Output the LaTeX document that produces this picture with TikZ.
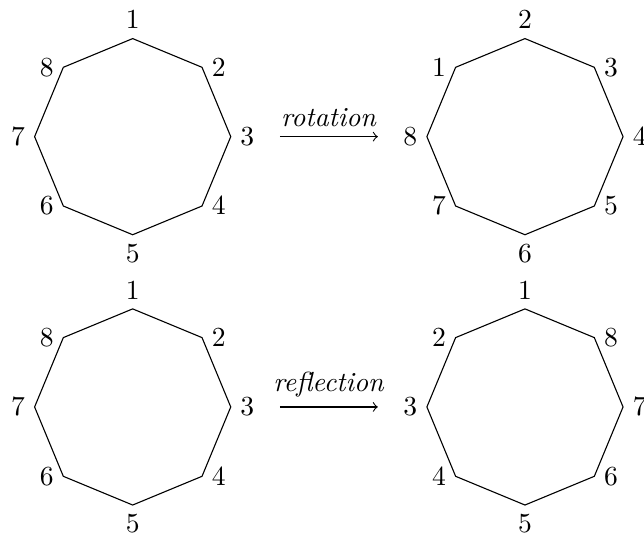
\documentclass[tikz,border=0pt]{standalone}
\usetikzlibrary{
    calc,
    arrows
}
\tikzset{
  every path/.style={
    black,
    line width=0.4pt
  },
  every label/.style={
    inner sep=3.33pt
  },
  polygon/.style={
    line join=miter
  },
  move/.style={
    ->
  }
}

\begin{document}
\begin{tikzpicture}

    \useasboundingbox (-1.691,-5.089) rectangle (6.517,1.742);

    %-------------------------
    % 左上の八角形
    %-------------------------
    \coordinate[label=above:$1$] (A1) at (90:1.25);
    \coordinate[label=right:$2$] (A2) at (45:1.25);
    \coordinate[label=right:$3$] (A3) at (0:1.25);
    \coordinate[label=right:$4$] (A4) at (-45:1.25);
    \coordinate[label=below:$5$] (A5) at (-90:1.25);
    \coordinate[label=left:$6$] (A6) at (-135:1.25);
    \coordinate[label=left:$7$] (A7) at (180:1.25);
    \coordinate[label=left:$8$] (A8) at (135:1.25);

    \draw[polygon] (A1) -- (A2) -- (A3) -- (A4) -- (A5) -- (A6) -- (A7) -- (A8) -- cycle;

    %-------------------------
    % 回転
    %-------------------------
    \coordinate (R1) at (1.875,0);
    \coordinate (R2) at (3.125,0);
    \draw[move] (R1) -- node[above] {\textit{rotation}} (R2);

    %-------------------------
    % 右上の八角形
    %-------------------------
    \begin{scope}[shift={(5,0)}]
    \coordinate[label=above:$2$] (B1) at (90:1.25);
    \coordinate[label=right:$3$] (B2) at (45:1.25);
    \coordinate[label=right:$4$] (B3) at (0:1.25);
    \coordinate[label=right:$5$] (B4) at (-45:1.25);
    \coordinate[label=below:$6$] (B5) at (-90:1.25);
    \coordinate[label=left:$7$] (B6) at (-135:1.25);
    \coordinate[label=left:$8$] (B7) at (180:1.25);
    \coordinate[label=left:$1$] (B8) at (135:1.25);

    \draw[polygon] (B1) -- (B2) -- (B3) -- (B4) -- (B5) -- (B6) -- (B7) -- (B8) -- cycle;
    \end{scope}

    %-------------------------
    % 左下の八角形
    %-------------------------
    \begin{scope}[shift={(0,-3.445)}]
    \coordinate[label=above:$1$] (C1) at (90:1.25);
    \coordinate[label=right:$2$] (C2) at (45:1.25);
    \coordinate[label=right:$3$] (C3) at (0:1.25);
    \coordinate[label=right:$4$] (C4) at (-45:1.25);
    \coordinate[label=below:$5$] (C5) at (-90:1.25);
    \coordinate[label=left:$6$] (C6) at (-135:1.25);
    \coordinate[label=left:$7$] (C7) at (180:1.25);
    \coordinate[label=left:$8$] (C8) at (135:1.25);

    \draw[polygon] (C1) -- (C2) -- (C3) -- (C4) -- (C5) -- (C6) -- (C7) -- (C8) -- cycle;

    %-------------------------
    % 鏡映
    %-------------------------
    \coordinate (S1) at (1.875,0);
    \coordinate (S2) at (3.125,0);
    \draw[move] (S1) -- node[above] {\textit{reflection}} (S2);
    \end{scope}

    %-------------------------
    % 右下の八角形
    %-------------------------
    \begin{scope}[shift={(5,-3.445)}]
    \coordinate[label=above:$1$] (D1) at (90:1.25);
    \coordinate[label=right:$8$] (D2) at (45:1.25);
    \coordinate[label=right:$7$] (D3) at (0:1.25);
    \coordinate[label=right:$6$] (D4) at (-45:1.25);
    \coordinate[label=below:$5$] (D5) at (-90:1.25);
    \coordinate[label=left:$4$] (D6) at (-135:1.25);
    \coordinate[label=left:$3$] (D7) at (180:1.25);
    \coordinate[label=left:$2$] (D8) at (135:1.25);

    \draw[polygon] (D1) -- (D2) -- (D3) -- (D4) -- (D5) -- (D6) -- (D7) -- (D8) -- cycle;
    \end{scope}

\end{tikzpicture}
\end{document}
